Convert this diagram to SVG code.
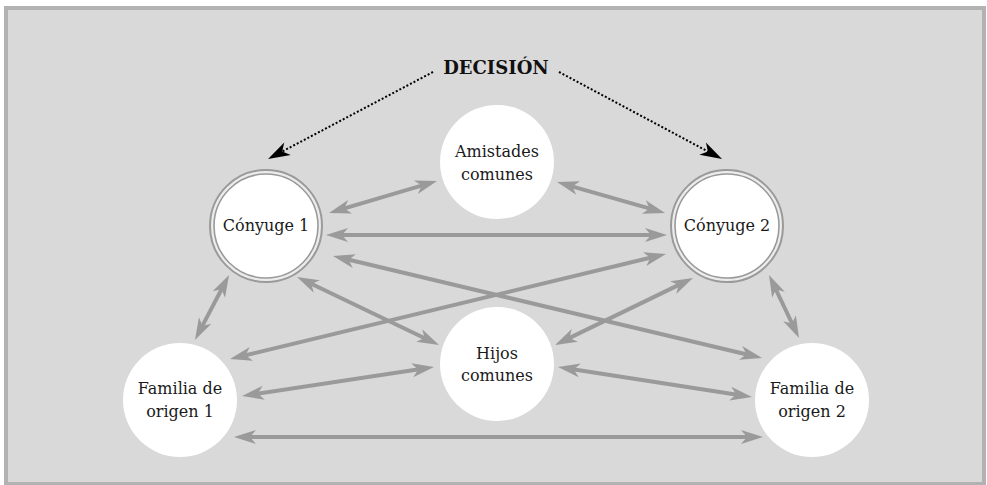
<svg xmlns="http://www.w3.org/2000/svg" width="987" height="485" viewBox="0 0 987 485">
<defs>
<style>
.node{fill:#fff;}
.ring{fill:#ececec;stroke:#9a9a9a;stroke-width:2;}
.ring2{fill:#fff;stroke:#9a9a9a;stroke-width:1.6;}
.lbl{font-family:"DejaVu Serif","Liberation Serif",serif;font-size:16px;fill:#1a1a1a;text-anchor:middle;}
.title{font-family:"DejaVu Serif","Liberation Serif",serif;font-size:18px;font-weight:bold;fill:#111;text-anchor:middle;}
.link{stroke:#9a9a9a;stroke-width:4;fill:none;marker-start:url(#gh);marker-end:url(#gh);}
.dot{stroke:#000;stroke-width:2;stroke-dasharray:2 2;fill:none;marker-end:url(#bh);}
</style>
<marker id="gh" markerUnits="userSpaceOnUse" markerWidth="40" markerHeight="40" refX="0" refY="0" viewBox="-20 -20 40 40" orient="auto-start-reverse" overflow="visible">
<path d="M10,0 L-12,-7 L-6,0 L-12,7 Z" fill="#9a9a9a"/>
</marker>
<marker id="bh" markerUnits="userSpaceOnUse" markerWidth="40" markerHeight="40" refX="0" refY="0" viewBox="-20 -20 40 40" orient="auto" overflow="visible">
<path d="M10,0 L-12,-7 L-6,0 L-12,7 Z" fill="#000"/>
</marker>
</defs>
<rect x="6" y="8" width="978" height="476" fill="#d9d9d9" stroke="#b2b2b2" stroke-width="4"/>
<g id="connectors">
<line class="link" x1="338.6" y1="210.2" x2="427.4" y2="183.8"/>
<line class="link" x1="336" y1="235" x2="657" y2="235"/>
<line class="link" x1="566.6" y1="184.8" x2="655.4" y2="210.2"/>
<line class="link" x1="224.4" y1="283.9" x2="199.6" y2="331.1"/>
<line class="link" x1="306" y1="281.3" x2="430" y2="340.7"/>
<line class="link" x1="342.7" y1="258.3" x2="752.3" y2="355.7"/>
<line class="link" x1="656.3" y1="256.3" x2="239.7" y2="356.7"/>
<line class="link" x1="684" y1="282.4" x2="564" y2="340.6"/>
<line class="link" x1="773.3" y1="284" x2="794.7" y2="329"/>
<line class="link" x1="251.9" y1="394.5" x2="424.1" y2="368.5"/>
<line class="link" x1="567.9" y1="368.5" x2="742.1" y2="395.5"/>
<line class="link" x1="244" y1="437" x2="753" y2="437"/>
<line class="dot" x1="433" y1="72" x2="276.9" y2="154.3"/>
<line class="dot" x1="559" y1="72" x2="713.2" y2="154.3"/>
</g>
<g id="decision">
<text class="title" x="496" y="74">DECISIÓN</text>
</g>
<g id="conyuge1">
<circle class="ring" cx="266" cy="226" r="56"/>
<circle class="ring2" cx="266" cy="226" r="52"/>
<text class="lbl" x="266" y="231">Cónyuge 1</text>
</g>
<g id="conyuge2">
<circle class="ring" cx="727" cy="226" r="56"/>
<circle class="ring2" cx="727" cy="226" r="52"/>
<text class="lbl" x="727" y="231">Cónyuge 2</text>
</g>
<g id="amistades">
<circle class="node" cx="497" cy="162" r="57"/>
<text class="lbl" x="497" y="157">Amistades</text>
<text class="lbl" x="497" y="180">comunes</text>
</g>
<g id="hijos">
<circle class="node" cx="497" cy="364" r="57"/>
<text class="lbl" x="497" y="359">Hijos</text>
<text class="lbl" x="497" y="381">comunes</text>
</g>
<g id="familia1">
<circle class="node" cx="180" cy="400" r="57"/>
<text class="lbl" x="180" y="394">Familia de</text>
<text class="lbl" x="180" y="417">origen 1</text>
</g>
<g id="familia2">
<circle class="node" cx="812" cy="400" r="57"/>
<text class="lbl" x="812" y="394">Familia de</text>
<text class="lbl" x="812" y="417">origen 2</text>
</g>
</svg>
